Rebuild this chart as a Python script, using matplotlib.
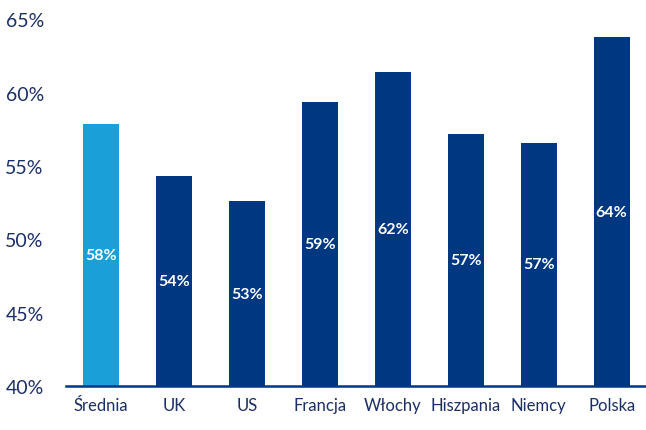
import matplotlib
matplotlib.use("Agg")
import matplotlib.pyplot as plt

categories = ["Średnia", "UK", "US", "Francja", "Włochy", "Hiszpania", "Niemcy", "Polska"]
values = [57.9, 54.3, 52.6, 59.4, 61.4, 57.2, 56.6, 63.8]
labels = ["58%", "54%", "53%", "59%", "62%", "57%", "57%", "64%"]
yticks = [40, 45, 50, 55, 60, 65]
ytick_labels = ["40%", "45%", "50%", "55%", "60%", "65%"]

navy = "#003781"
light = "#1A9FD9"
text_color = "#1B2F66"

plt.rcParams['font.family'] = ['Lato', 'DejaVu Sans']

fig = plt.figure(figsize=(6.46, 4.31), dpi=100)
ax = fig.add_axes([66/646, 44/431, 1 - 66/646, (387-20.5)/431])

colors = [light] + [navy] * (len(categories) - 1)
x = list(range(len(categories)))
bars = ax.bar(x, values, width=0.49, color=colors, bottom=0)
ax.set_ylim(40, 65)
ax.set_xlim(-0.48, 7.47)

for xi, v, lab in zip(x, values, labels):
    ax.text(xi, (40 + v) / 2, lab, ha="center", va="center", color="white",
            fontsize=11.5, fontweight="bold")

ax.set_yticks(yticks)
ax.set_yticklabels(ytick_labels, fontsize=14, color=text_color)
ax.set_xticks(x)
ax.set_xticklabels(categories, fontsize=12, color=text_color)
ax.tick_params(axis="y", length=0, pad=16)
ax.tick_params(axis="x", length=0, pad=8)

for s in ["top", "right", "left"]:
    ax.spines[s].set_visible(False)
ax.spines["bottom"].set_color(navy)
ax.spines["bottom"].set_linewidth(1.8)

fig.savefig("out.png", dpi=100)
